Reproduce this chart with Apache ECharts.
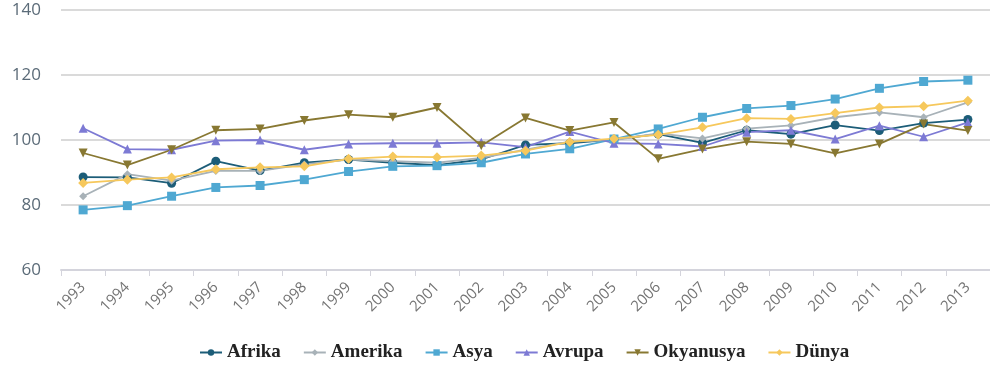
<!DOCTYPE html>
<html>
<head>
<meta charset="utf-8">
<script src="https://cdn.jsdelivr.net/npm/echarts@6/dist/echarts.min.js"></script>
<style>
  html, body { margin: 0; padding: 0; background: #fff; }
  #chart { width: 990px; height: 367px; }
</style>
</head>
<body>
<div id="chart"></div>
<script>
// Years on the category axis
var years = ['1993','1994','1995','1996','1997','1998','1999','2000','2001','2002','2003',
             '2004','2005','2006','2007','2008','2009','2010','2011','2012','2013'];

// Index values per region (2005 = 100)
var afrika    = [88.6, 88.5, 86.7, 93.5, 90.6, 93.0, 94.0, 93.0, 92.3, 94.0, 98.5, 99.0, 100.2, 101.8, 99.1, 103.0, 101.8, 104.6, 102.9, 105.2, 106.3];
var amerika   = [82.7, 89.5, 87.5, 90.5, 90.5, 92.5, 94.0, 93.5, 93.0, 94.5, 97.0, 99.5, 100.0, 102.0, 100.5, 103.5, 104.5, 107.0, 108.5, 107.0, 111.6];
var asya      = [78.5, 79.8, 82.7, 85.4, 86.0, 87.8, 90.3, 91.9, 92.1, 93.0, 95.7, 97.3, 100.3, 103.4, 107.0, 109.7, 110.6, 112.6, 115.9, 118.0, 118.4];
var avrupa    = [103.6, 97.2, 97.0, 99.8, 100.0, 97.0, 98.8, 99.0, 99.0, 99.3, 97.8, 102.6, 99.0, 98.8, 98.0, 102.4, 103.0, 100.3, 104.4, 101.0, 105.4];
var okyanusya = [96.0, 92.3, 97.0, 103.0, 103.4, 106.0, 107.8, 107.0, 110.0, 98.2, 106.8, 102.9, 105.4, 94.2, 97.2, 99.5, 98.8, 95.9, 98.8, 104.9, 102.9];
var dunya     = [86.8, 87.8, 88.5, 91.0, 91.6, 91.9, 94.2, 94.9, 94.7, 95.2, 96.7, 99.4, 100.4, 101.6, 103.9, 106.7, 106.5, 108.3, 110.0, 110.4, 112.1];

var yTicks = { min: 60, max: 140, step: 20 };

function line(name, data, color, symbol, size) {
  return {
    name: name,
    type: 'line',
    data: data,
    symbol: symbol,
    symbolSize: size,
    lineStyle: { color: color, width: 1.8 },
    itemStyle: { color: color },
    emphasis: { disabled: true }
  };
}

var chart = echarts.init(document.getElementById('chart'), null, { renderer: 'canvas' });
chart.setOption({
  animation: false,
  backgroundColor: '#ffffff',
  grid: { left: 61, right: 0, top: 10, bottom: 97, containLabel: false },
  legend: {
    bottom: 0,
    left: 194,
    itemWidth: 22,
    itemHeight: 8,
    itemGap: 22,
    textStyle: { fontFamily: 'Liberation Serif, Times New Roman, serif', fontWeight: 'bold', fontSize: 19, color: '#222' },
    data: ['Afrika', 'Amerika', 'Asya', 'Avrupa', 'Okyanusya', 'Dünya']
  },
  xAxis: {
    type: 'category',
    data: years,
    boundaryGap: true,
    axisLine: { lineStyle: { color: '#d4d4dc', width: 2 } },
    axisTick: { show: true, length: 6, lineStyle: { color: '#d4d4dc' } },
    axisLabel: {
      interval: 0, rotate: 45, color: '#747474', fontSize: 15,
      fontFamily: 'Open Sans, sans-serif', margin: 15
    }
  },
  yAxis: {
    type: 'value',
    min: yTicks.min,
    max: yTicks.max,
    interval: yTicks.step,
    axisLine: { show: false },
    axisTick: { show: false },
    axisLabel: { color: '#5b6b78', fontSize: 17, fontFamily: 'Open Sans, sans-serif', margin: 20 },
    splitLine: { lineStyle: { color: '#dadada', width: 2 } }
  },
  series: [
    line('Afrika', afrika, '#1c5d78', 'circle', 9),
    line('Amerika', amerika, '#a8b2b8', 'diamond', 8),
    line('Asya', asya, '#4fa8d2', 'rect', 9),
    line('Avrupa', avrupa, '#7d7ad4', 'triangle', 9),
    line('Okyanusya', okyanusya, '#887832', 'path://M0,0 L10,0 L5,10 Z', 9),
    line('Dünya', dunya, '#f6c85c', 'diamond', 10)
  ]
});
</script>
</body>
</html>
